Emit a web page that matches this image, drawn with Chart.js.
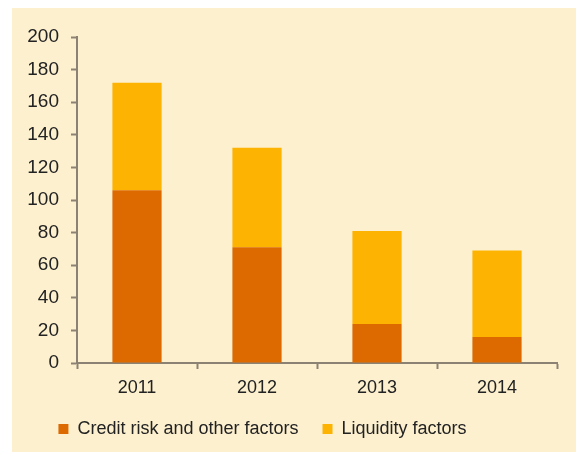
<!DOCTYPE html>
<html>
<head>
    <style>
        body { margin: 0; background: #ffffff; }
        #wrap { width: 576px; height: 452px; }
    </style>
    <script src="https://cdn.jsdelivr.net/npm/chart.js"></script>
</head>
<body>
    <div id="wrap"><canvas id="myChart" width="576" height="452"></canvas></div>
    <script>
        var years = ['2011', '2012', '2013', '2014'];
        var creditRisk = [106, 71, 24, 16];
        var liquidity = [66, 61, 57, 53];
        var yTicks = [0, 20, 40, 60, 80, 100, 120, 140, 160, 180, 200];

        var axisGrey = '#8c8273';
        var textColor = '#222222';

        // cream panel behind the chart
        var panel = {
            id: 'panel',
            beforeDraw: function(chart) {
                var c = chart.ctx;
                c.save();
                c.fillStyle = '#fdf0cf';
                c.fillRect(12, 8, 564, 444);
                c.restore();
            },
            afterLayout: function(chart) {
                // legend sits a bit left of centre and a little lower in the original
                chart.legend.left -= 22;
                chart.legend.right -= 22;
                chart.legend.top += 3;
                chart.legend.bottom += 3;
            }
        };

        var ctx = document.getElementById('myChart').getContext('2d');
        var myChart = new Chart(ctx, {
            type: 'bar',
            data: {
                labels: years,
                datasets: [{
                    label: 'Credit risk and other factors',
                    data: creditRisk,
                    backgroundColor: '#dd6a00',
                    barPercentage: 0.5,
                    categoryPercentage: 0.82
                }, {
                    label: 'Liquidity factors',
                    data: liquidity,
                    backgroundColor: '#fdb302',
                    barPercentage: 0.5,
                    categoryPercentage: 0.82
                }]
            },
            options: {
                responsive: false,
                animation: false,
                layout: { padding: { left: 12, right: 19, top: 37, bottom: 7 } },
                plugins: {
                    tooltip: { enabled: false },
                    legend: {
                        position: 'bottom',
                        labels: {
                            boxWidth: 10,
                            boxHeight: 10,
                            padding: 24,
                            color: textColor,
                            font: { family: 'Liberation Sans', size: 18 }
                        }
                    }
                },
                scales: {
                    x: {
                        stacked: true,
                        grid: {
                            offset: true,
                            drawOnChartArea: false,
                            drawTicks: true,
                            tickLength: 6,
                            tickWidth: 2,
                            tickColor: axisGrey
                        },
                        border: { color: axisGrey, width: 2 },
                        ticks: {
                            color: textColor,
                            padding: 8,
                            font: { family: 'Liberation Sans', size: 18 }
                        },
                        afterFit: function(scale) { scale.height = 30; }
                    },
                    y: {
                        stacked: true,
                        min: 0,
                        max: 200,
                        afterBuildTicks: function(scale) {
                            scale.ticks = yTicks.map(function(v) { return { value: v }; });
                        },
                        grid: {
                            drawOnChartArea: false,
                            tickLength: 6,
                            tickWidth: 2,
                            tickColor: axisGrey
                        },
                        border: { color: axisGrey, width: 2 },
                        ticks: {
                            color: textColor,
                            padding: 12,
                            font: { family: 'Liberation Sans', size: 19 }
                        },
                        afterFit: function(scale) { scale.width = 65; }
                    }
                }
            },
            plugins: [panel]
        });
    </script>
</body>
</html>
